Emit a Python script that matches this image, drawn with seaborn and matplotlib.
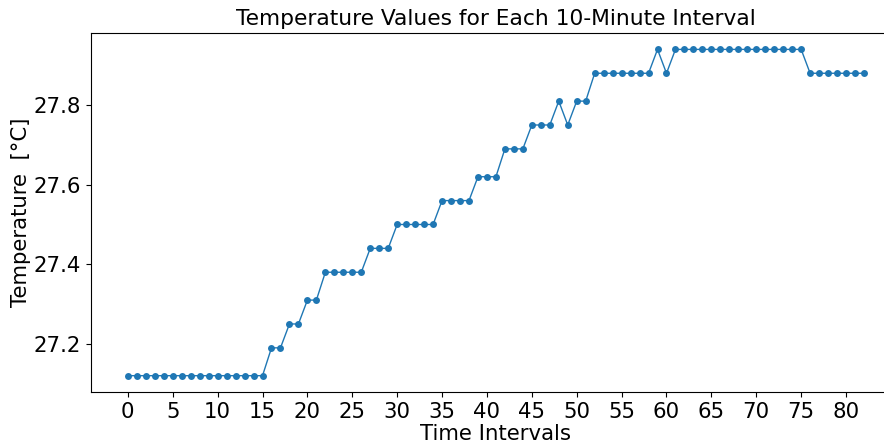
import pandas as pd
import matplotlib
matplotlib.use("Agg")
import matplotlib.pyplot as plt
import seaborn as sns

# temperature readings, one per 10-minute interval
temps = (
    [27.12] * 16
    + [27.19] * 2
    + [27.25] * 2
    + [27.31] * 2
    + [27.38] * 5
    + [27.44] * 3
    + [27.50] * 5
    + [27.56] * 4
    + [27.62] * 3
    + [27.69] * 3
    + [27.75] * 3
    + [27.81, 27.75, 27.81, 27.81]
    + [27.88] * 7
    + [27.94, 27.88]
    + [27.94] * 15
    + [27.88] * 7
)
intervals = list(range(len(temps)))
x_ticks = list(range(0, 81, 5))
y_ticks = [27.2, 27.4, 27.6, 27.8]

df = pd.DataFrame({"interval": intervals, "temp": temps})

fig = plt.figure(figsize=(8.84, 4.47), dpi=100)
ax = fig.add_axes([0.103, 0.123, 0.916, 0.803])

sns.lineplot(data=df, x="interval", y="temp", marker="o", markersize=5,
             markeredgewidth=0, linewidth=1, color="#1f77b4", ax=ax)

ax.set_xlim(-4.1, 86.1)
ax.set_xticks(x_ticks)
ax.set_yticks(y_ticks)
ax.tick_params(labelsize=15.3)
ax.set_xlabel("Time Intervals", fontsize=15.3, labelpad=1.5)
ax.set_ylabel("Temperature  [°C]", fontsize=15.3, labelpad=2)
ax.set_title("Temperature Values for Each 10-Minute Interval", fontsize=15.7)

fig.savefig("out.png", dpi=100)
